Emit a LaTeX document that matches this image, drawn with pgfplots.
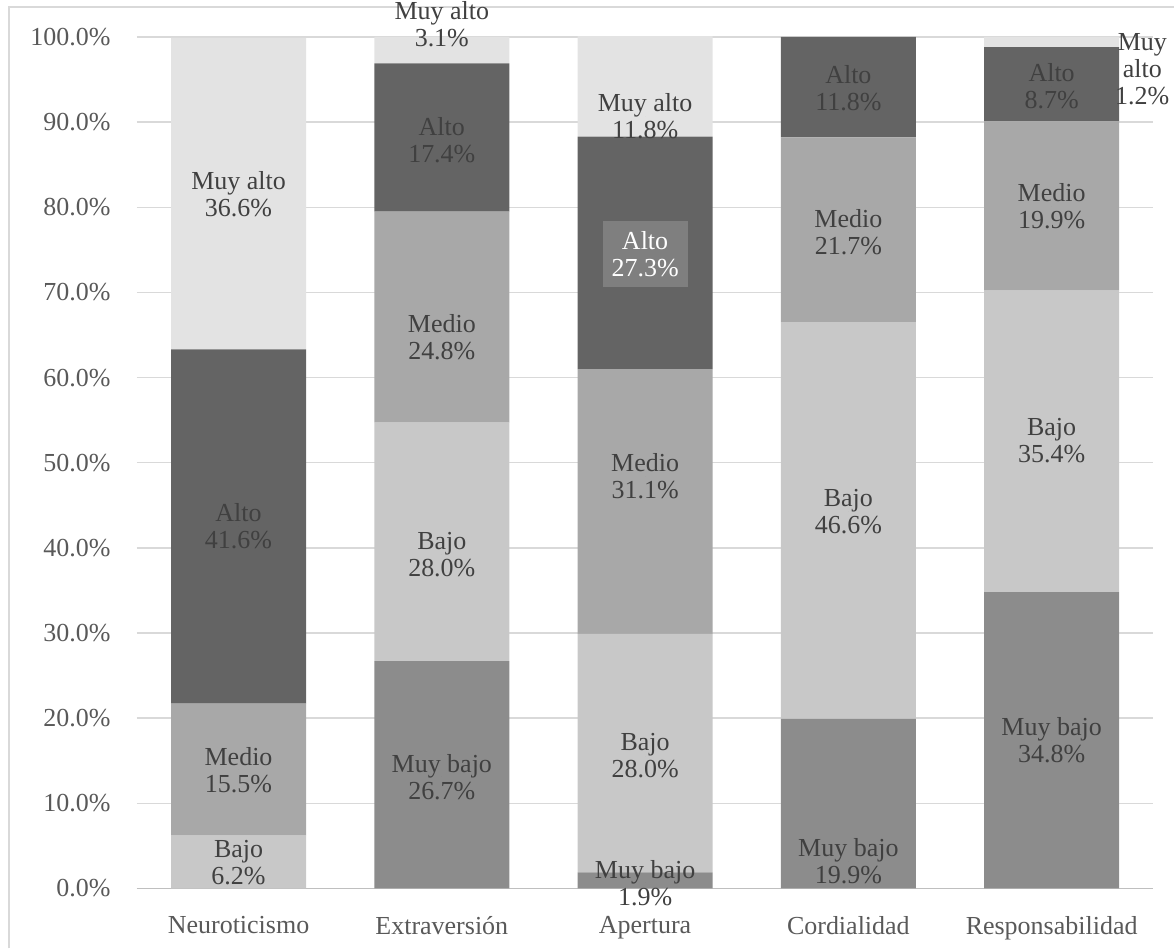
\documentclass[border=0pt]{standalone}
\usepackage{fontspec}
\setmainfont{Liberation Serif}
\usepackage{pgfplots}
\pgfplotsset{compat=1.18}

\definecolor{cmuybajo}{HTML}{8C8C8C}
\definecolor{cbajo}{HTML}{C8C8C8}
\definecolor{cmedio}{HTML}{A8A8A8}
\definecolor{calto}{HTML}{646464}
\definecolor{cmuyalto}{HTML}{E3E3E3}
\definecolor{gridc}{HTML}{D9D9D9}
\definecolor{axisc}{HTML}{BFBFBF}
\definecolor{tickc}{HTML}{595959}
\definecolor{labc}{HTML}{404040}
\definecolor{boxc}{HTML}{7F7F7F}

\pgfplotsset{
  base/.style={
    width=508.5pt, height=426pt, scale only axis,
    at={(68.5pt,30pt)}, anchor=south west,
    xmin=-0.5, xmax=4.5, ymin=0, ymax=100,
    font=\fontsize{13}{13.5}\selectfont,
  },
}

\begin{document}
\begin{tikzpicture}
\path (0,0) rectangle (587.5pt,474.5pt);
\draw[gridc, line width=0.75pt] (4.5pt,0) -- (4.5pt,471pt) -- (587.5pt,471pt);

% bars
\begin{axis}[base,
  ybar stacked, bar width=67.5pt,
  axis x line*=bottom, axis y line*=left,
  x axis line style={axisc, line width=0.75pt},
  y axis line style={draw=none},
  tick style={draw=none},
  ymajorgrids, grid style={gridc, line width=0.75pt},
  ytick={0,10,...,100},
  yticklabel={\pgfmathprintnumber[fixed,fixed zerofill,precision=1]{\tick}\%},
  /pgf/number format/assume math mode=true,
  yticklabel style={text=tickc, xshift=-9.7pt},
  xtick={0,1,2,3,4},
  xticklabels={Neuroticismo,Extraversión,Apertura,Cordialidad,Responsabilidad},
  xticklabel style={text=tickc, yshift=-10.5pt},
]
% Muy bajo
\addplot[fill=cmuybajo, draw=none] coordinates {(0,0) (1,26.7) (2,1.9) (3,19.9) (4,34.8)};
% Bajo
\addplot[fill=cbajo, draw=none] coordinates {(0,6.2) (1,28.0) (2,28.0) (3,46.6) (4,35.4)};
% Medio
\addplot[fill=cmedio, draw=none] coordinates {(0,15.5) (1,24.8) (2,31.1) (3,21.7) (4,19.9)};
% Alto
\addplot[fill=calto, draw=none] coordinates {(0,41.6) (1,17.4) (2,27.3) (3,11.8) (4,8.7)};
% Muy alto
\addplot[fill=cmuyalto, draw=none] coordinates {(0,36.6) (1,3.1) (2,11.8) (3,0) (4,1.2)};
\end{axis}

% data labels
\begin{axis}[base, hide axis, clip=false,
  nodes near coords, point meta=explicit symbolic,
  nodes near coords style={anchor=center, align=center, text=labc, inner sep=0pt,
    font=\fontsize{13}{13.5}\selectfont},
]
\addplot[only marks, mark=*, mark size=0pt, mark options={draw=none,fill=none}] coordinates {
  (0,81.51) [Muy alto\\36.6\%]
  (0,42.55) [Alto\\41.6\%]
  (0,13.91) [Medio\\15.5\%]
  (0,2.99) [Bajo\\6.2\%]
  (1,101.47) [Muy alto\\3.1\%]
  (1,87.91) [Alto\\17.4\%]
  (1,64.79) [Medio\\24.8\%]
  (1,39.26) [Bajo\\28.0\%]
  (1,13.09) [Muy bajo\\26.7\%]
  (2,90.67) [Muy alto\\11.8\%]
  (2,48.42) [Medio\\31.1\%]
  (2,15.55) [Bajo\\28.0\%]
  (2,0.65) [Muy bajo\\1.9\%]
  (3,94.01) [Alto\\11.8\%]
  (3,77.05) [Medio\\21.7\%]
  (3,44.25) [Bajo\\46.6\%]
  (3,3.17) [Muy bajo\\19.9\%]
  (4,94.19) [Alto\\8.7\%]
  (4.446,96.24) [Muy\\alto\\1.2\%]
  (4,80.11) [Medio\\19.9\%]
  (4,52.64) [Bajo\\35.4\%]
  (4,17.43) [Muy bajo\\34.8\%]
};
\addplot[only marks, mark=*, mark size=0pt, mark options={draw=none,fill=none},
  nodes near coords style={fill=boxc, text=white, inner xsep=4.5pt, inner ysep=5pt}]
  coordinates {(2,74.53) [Alto\\27.3\%]};
\end{axis}
\end{tikzpicture}
\end{document}
